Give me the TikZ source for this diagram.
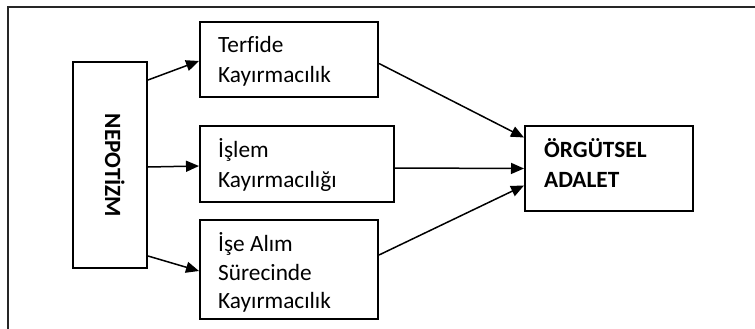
\documentclass[tikz,border=0pt]{standalone}
\usepackage{fontspec}
\setmainfont{Carlito}[Ligatures={NoCommon}]
\usetikzlibrary{arrows.meta}
\begin{document}
\begin{tikzpicture}[x=1pt,y=-1pt,
  box/.style={draw=black, line width=2pt, inner sep=0pt},
  lbl/.style={anchor=base west, inner sep=0pt, font=\fontsize{23.3}{29}\selectfont},
  blbl/.style={lbl, font=\fontsize{23.3}{29}\selectfont\bfseries},
  conn/.style={line width=1.5pt, -{Triangle[length=13pt,width=11pt]}}]
\useasboundingbox (0,0) rectangle (755,329);
\coordinate (fa) at (8,329);
\coordinate (fc) at (8,7);
\coordinate (fb) at (755,7);
\draw[line width=2pt, draw=black!85] (fa) -- (fc) -- (fb);
% boxes
\node[box, minimum width=74pt, minimum height=206pt] (nep) at (110,165) {};
\node[box, minimum width=178pt, minimum height=75pt] (t1) at (289,59.5) {};
\node[box, minimum width=194pt, minimum height=76pt] (t2) at (297,164) {};
\node[box, minimum width=178pt, minimum height=99pt] (t3) at (289,269) {};
\node[box, minimum width=168pt, minimum height=85pt] (org) at (609,168.5) {};
% texts
\node[blbl, rotate=-90, anchor=base] (nept) at (105,165.5) {NEPOTİZM};
\node[lbl] (a1) at (218,53) {Terfide};
\node[lbl] (a2) at (218,82) {Kayırmacılık};
\node[lbl] (b1) at (218,157) {İşlem};
\node[lbl] (b2) at (218,187) {Kayırmacılığı};
\node[lbl] (c1) at (218,251) {İşe Alım};
\node[lbl] (c2) at (218,280) {Sürecinde};
\node[lbl] (c3) at (218,308) {Kayırmacılık};
\node[blbl] (o1) at (544,157) {ÖRGÜTSEL};
\node[blbl] (o2) at (544,187) {ADALET};
% connectors
\draw[conn] ([yshift=-19pt]nep.north east) -- ([yshift=-1.5pt]t1.west);
\draw[conn] ([yshift=-2pt]nep.east) -- ([yshift=-2pt]t2.west);
\draw[conn] ([yshift=13pt]nep.south east) -- ([yshift=-2pt]t3.west);
\draw[conn] ([yshift=-4pt]t1.east) -- ([yshift=31pt]org.west);
\draw[conn] ([yshift=-4pt]t2.east) -- ([yshift=0pt]org.west);
\draw[conn] ([yshift=14pt]t3.east) -- ([yshift=-17pt]org.west);
\end{tikzpicture}
\end{document}
